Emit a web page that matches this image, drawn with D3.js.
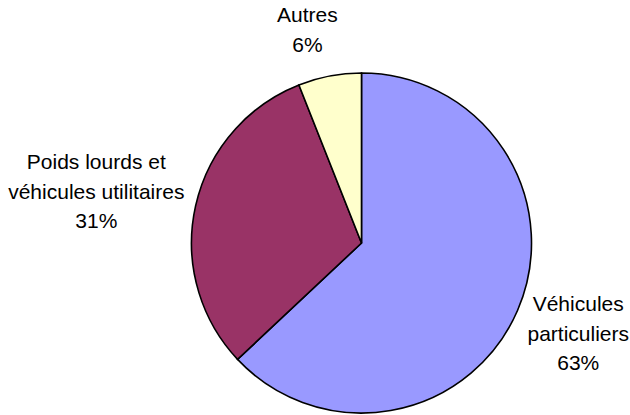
<!DOCTYPE html>
<html lang="fr">
<head>
    <meta charset="UTF-8">
    <title>Répartition</title>
    <style>
        body { margin: 0; background: #fff; }
        #chart svg { display: block; }
        .slice { stroke: #000; stroke-width: 1.6; }
        .etiquetas text {
            font-family: "Liberation Sans", Arial, sans-serif;
            font-size: 21px;
            fill: #000;
        }
    </style>
</head>
<body>
    <div id="chart"></div>
    <script src="https://cdnjs.cloudflare.com/ajax/libs/d3/7.8.5/d3.min.js"></script>
    <script>
    "use strict";

    // datos
    var categorias = ['Véhicules particuliers', 'Poids lourds et véhicules utilitaires', 'Autres'];
    var lineas     = [['Véhicules', 'particuliers'], ['Poids lourds et', 'véhicules utilitaires'], ['Autres']];
    var valores    = [63, 31, 6];
    var colores    = ['#9999ff', '#993366', '#ffffcc'];

    var container = { width: 630, height: 415 };
    var centro = { x: 361.5, y: 243 };
    var radio = 170;
    var radioEtiquetaX = 182;
    var radioEtiquetaY = 186;
    var interlinea = 29.5;

    var total = d3.sum(valores);
    var datos = categorias.map(function(c, i) {
        return { categoria: c, lineas: lineas[i], valor: valores[i], color: colores[i] };
    });

    var svg = d3.select('#chart').append('svg')
        .attr('width', container.width)
        .attr('height', container.height);

    var g = svg.append('g')
        .attr('transform', 'translate(' + centro.x + ',' + centro.y + ')');

    var pie = d3.pie()
        .sort(null)
        .value(function(d) { return d.valor; });

    var arc = d3.arc()
        .innerRadius(0)
        .outerRadius(radio);

    var arcos = pie(datos);

    g.append('g').attr('class', 'slices')
        .selectAll('path')
        .data(arcos)
        .enter().append('path')
            .attr('class', 'slice')
            .attr('fill', function(d) { return d.data.color; })
            .attr('d', arc);

    var etiquetas = g.append('g').attr('class', 'etiquetas')
        .selectAll('text')
        .data(arcos)
        .enter().append('text')
            .attr('text-anchor', 'middle');

    etiquetas.each(function(d) {
        var texto = d3.select(this);
        var todas = d.data.lineas.concat([Math.round(d.data.valor / total * 100) + '%']);
        todas.forEach(function(l) {
            texto.append('tspan').text(l);
        });

        // ancho del bloque de texto
        var ancho = 0;
        texto.selectAll('tspan').each(function() {
            ancho = Math.max(ancho, this.getComputedTextLength());
        });
        var alto = todas.length * 30;

        var a = (d.startAngle + d.endAngle) / 2;
        var s = Math.sin(a), c = -Math.cos(a);
        var cx = s * radioEtiquetaX + Math.sign(s) * Math.pow(Math.abs(s), 0.25) * ancho / 2;
        var cy = c * radioEtiquetaY + c * alto / 2;
        var primera = cy - (todas.length - 1) * interlinea / 2 + 6;

        texto.selectAll('tspan')
            .attr('x', cx)
            .attr('y', function(t, i) { return primera + i * interlinea; });
    });
    </script>
</body>
</html>
